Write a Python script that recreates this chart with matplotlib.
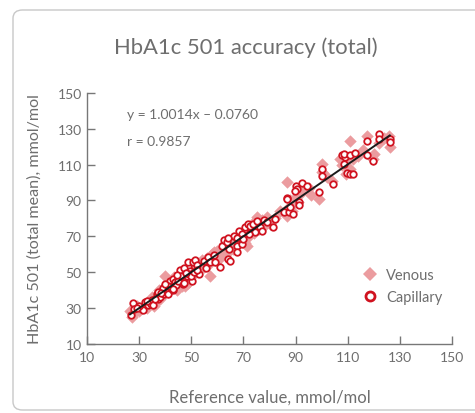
import matplotlib
matplotlib.use("Agg")
import matplotlib.pyplot as plt
from matplotlib.patches import FancyBboxPatch
from matplotlib.lines import Line2D

plt.rcParams['font.family'] = ['Lato', 'DejaVu Sans']

title = "HbA1c 501 accuracy (total)"
x_label = "Reference value, mmol/mol"
y_label = "HbA1c 501 (total mean), mmol/mol"
ticks = [10, 30, 50, 70, 90, 110, 130, 150]
slope = 1.0014
intercept = -0.0760
r_value = 0.9857

venous_x = [26.4, 27, 28, 29, 30, 31, 32, 33, 34, 35, 36, 37, 38, 39, 39.9, 40, 41, 42, 43, 44,
            45, 46, 47, 47.6, 48, 49, 50, 51, 52, 53, 54, 55, 56, 57.2, 57, 58, 59, 60, 61, 62,
            63, 64, 65, 66, 67, 68, 69, 70, 71.3, 71, 72, 73, 74, 75.2, 76, 77, 78, 79, 80, 82,
            84, 86.7, 86.9, 87, 88, 89, 90, 91, 92, 93, 95, 98.9, 100.2, 100, 102, 104, 107, 108,
            109.5, 110, 111, 111, 112, 114, 117.5, 119.6, 120, 121.9, 124, 126.2, 126,
            41.5, 43.5, 44.5, 46.5, 48.5, 49.5, 37.5, 35.5, 66.5, 68.5, 70.5, 72.5, 74, 62.5,
            58.5, 88.5, 90.5, 96, 109, 116]
venous_y = [28.4, 25, 27, 31, 28, 30, 31, 30, 33, 36, 33, 38, 35, 37, 48.0, 42, 39, 44, 42, 41,
            46, 44, 49, 42.3, 46, 47, 52, 49, 54, 51, 57, 53, 58, 48.0, 55, 60, 57, 62, 58, 60,
            66, 61, 67, 63, 69, 66, 72, 68, 64.7, 73, 70, 76, 72, 80.5, 74, 79, 76, 81, 77, 80,
            84, 81.4, 100.4, 86, 90, 88, 92, 89, 94, 96, 97, 91.0, 110.2, 106, 103, 101, 113, 110,
            104.6, 108, 107.4, 123.2, 113, 115, 126, 113, 116, 121.8, 125, 119.8, 126,
            45, 47, 40, 42, 44, 53, 40, 31, 64, 71, 66, 75, 78, 63,
            61, 84, 95, 93, 112, 118]

capillary_x = [26.7, 27.7, 28.1, 30.3, 31.5, 32.2, 33.2, 34.4, 35.0, 35.2, 36.7, 37.3, 38.0, 38.6,
               39.6, 40.5, 40.9, 41.8, 42.5, 43.1, 43.7, 45.0, 46.3, 46.9, 47.6, 48.2, 48.8, 49.5,
               50.2, 45.7, 47.3, 48.6, 50.8, 51.4, 52.1, 53.0, 54.9, 56.3, 58.5, 57.2, 59.1, 60.8,
               61.7, 62.7, 63.6, 64.5, 64.2, 42, 44, 45, 46, 47, 49, 39, 37, 36, 33, 30, 29, 41,
               43, 50, 51, 52, 40, 44.5, 47.8, 42.8, 38.4, 55.6, 66.2, 70.8,
               64.0, 67.5, 69.4, 67.5, 64.9, 68.1, 69.4, 67.5, 70.0, 70.7, 71.7, 72.6, 73.8, 75.2,
               76.4, 74.5, 72.0, 77.0, 78.0, 79.0, 81.5, 82.2, 85.4, 87.3, 88.0, 89.2, 86.9, 91.2,
               91.2, 90.2, 90.5, 92.5, 94.4, 89.9, 86.9, 98.9, 100.2, 100.2, 104.4,
               107.8, 109.1, 108.5, 110.8, 113.0, 108.7, 109.8, 111.0, 112.0, 117.5, 117.5, 119.6,
               121.9, 121.9, 126.2, 126.2]
capillary_y = [26.0, 32.5, 29.4, 29.9, 28.8, 33.1, 31.8, 32.4, 34.2, 31.5, 37.7, 35.0, 36.2, 39.6,
               38.0, 40.5, 37.7, 45.1, 42.3, 46.1, 44.2, 47.0, 45.1, 43.3, 47.0, 47.9, 52.6, 50.7,
               45.1, 51.1, 52.0, 55.4, 55.4, 56.7, 53.9, 48.9, 56.3, 58.5, 59.6, 55.4, 55.4, 52.9,
               64.7, 67.8, 66.6, 62.8, 57.2, 41, 43, 45, 48, 44, 49, 41, 39, 35, 34, 31, 30, 42,
               40, 48, 50, 51, 43.5, 48.5, 49.5, 40.8, 38.2, 52.0, 70.2, 72.4,
               69.0, 64.7, 65.6, 61.0, 56.3, 73.0, 71.2, 69.3, 68.4, 74.9, 76.8, 75.8, 76.8, 78.6,
               75.2, 72.5, 71.5, 72.7, 79.0, 77.7, 74.9, 79.5, 83.3, 83.8, 86.1, 82.3, 91.6, 89.4,
               87.5, 98.1, 96.3, 100.0, 98.1, 95.3, 91.0, 94.8, 107.4, 103.7, 99.0,
               115.4, 114.3, 116.0, 115.4, 116.7, 110.2, 105.6, 104.6, 105.0, 123.2, 115.4, 112.0,
               127.3, 124.2, 124.2, 122.9]

gray = '#6e6e6e'
venous_color = '#eb9c9f'
cap_color = '#d0121f'

fig = plt.figure(figsize=(4.75, 4.14), dpi=100)

# rounded panel border
border = FancyBboxPatch((13 / 475, 3 / 414), 1.2, 400 / 414,
                        boxstyle="round,pad=0,rounding_size=0.02",
                        transform=fig.transFigure, facecolor='none',
                        edgecolor='#c8c8c8', linewidth=1.0, zorder=-1)
fig.patches.append(border)

ax = fig.add_axes([87.3 / 475, 1 - 344.7 / 414, (451.7 - 87.3) / 475, (344.7 - 94) / 414])
ax.set_facecolor('none')

ax.scatter(venous_x, venous_y, marker='D', s=40, color=venous_color, linewidths=0, zorder=2)
ax.scatter(capillary_x, capillary_y, marker='o', s=22, facecolors='white',
           edgecolors=cap_color, linewidths=1.3, zorder=3)

all_x = venous_x + capillary_x
lx = [min(all_x), max(all_x)]
ly = [slope * v + intercept for v in lx]
ax.plot(lx, ly, color='#1a1a1a', linewidth=1.4, zorder=4)

ax.set_xlim(10, 150)
ax.set_ylim(10, 150)
ax.set_xticks(ticks)
ax.set_yticks(ticks)
for s in ['top', 'right']:
    ax.spines[s].set_visible(False)
for s in ['left', 'bottom']:
    ax.spines[s].set_color('#777777')
    ax.spines[s].set_linewidth(1.0)
ax.tick_params(direction='in', length=6, width=1.0, color='#777777',
               labelcolor=gray, labelsize=10)
ax.tick_params(axis='x', pad=5)
ax.tick_params(axis='y', pad=4)

ax.set_xlabel(x_label, color=gray, fontsize=12, labelpad=19)
ax.set_ylabel(y_label, color=gray, fontsize=11.6, labelpad=11)

ax.text(25.3, 138.1, f"y = {slope:.4f}x \u2013 {abs(intercept):.4f}", color=gray,
        fontsize=10, va='center', ha='left')
ax.text(25.3, 123.0, f"r = {r_value:.4f}", color=gray, fontsize=10, va='center', ha='left')

fig.text(246 / 475, 1 - 48 / 414, title, color=gray, fontsize=15.8, ha='center', va='center')

handles = [Line2D([], [], marker='D', linestyle='none', markersize=7.5,
                  markerfacecolor=venous_color, markeredgewidth=0),
           Line2D([], [], marker='o', linestyle='none', markersize=6.5,
                  markerfacecolor='white', markeredgecolor=cap_color, markeredgewidth=2)]
leg = ax.legend(handles, ['Venous', 'Capillary'], loc='center left',
                bbox_to_anchor=(0.72, 0.23), frameon=False, fontsize=10.5,
                handletextpad=0.6, labelspacing=0.55, handlelength=1.0)
for t in leg.get_texts():
    t.set_color(gray)

fig.savefig('out.png', dpi=100)
